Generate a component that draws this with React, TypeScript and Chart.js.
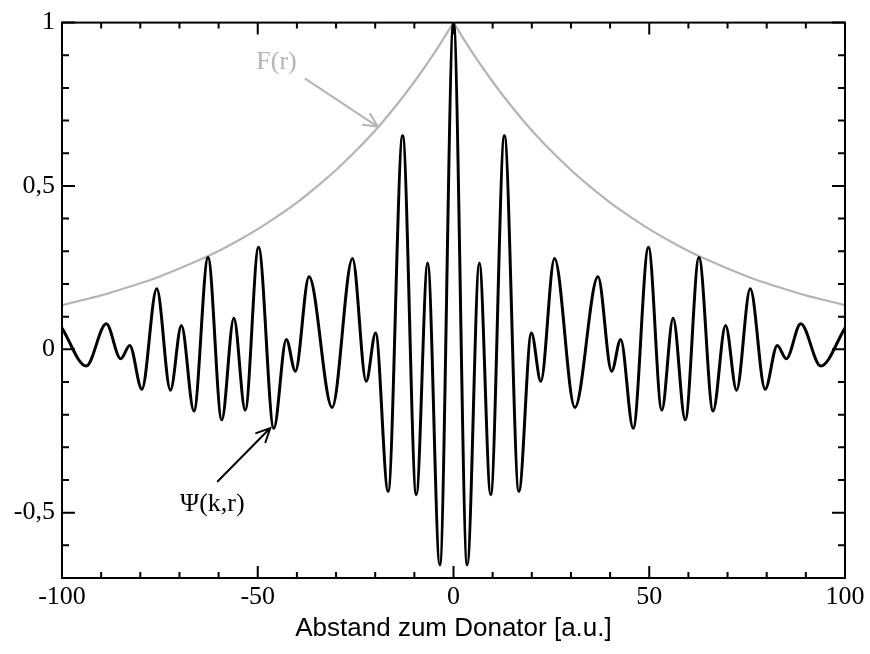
import React, { useEffect, useRef } from "react";
import { Chart, registerables } from "chart.js";

Chart.register(...registerables);

// Ψ(k,r): distance r and wave value (read at extrema of the curve)
const psiR = [
  -100, -93.8, -88.7, -85.0, -82.7, -79.6, -75.8, -72.3, -69.5, -66.3, -62.7, -59.2, -56.1, -53.2, -49.8,
  -45.9, -42.7, -40.4, -36.9, -31.0, -25.8, -22.3, -19.9, -16.7, -13.0, -9.5, -6.6, -3.5, 0,
  3.5, 6.6, 9.5, 13.0, 16.7, 19.9, 22.3, 25.8, 31.0, 36.9, 40.4, 42.7, 45.9,
  49.8, 53.2, 56.1, 59.2, 62.7, 66.3, 69.5, 72.3, 75.8, 79.6, 82.7, 85.0, 88.7, 93.8, 100,
];
const psiV = [
  0.065, -0.051, 0.078, -0.029, 0.012, -0.122, 0.185, -0.125, 0.073, -0.189, 0.281, -0.216, 0.095, -0.186, 0.312,
  -0.242, 0.03, -0.067, 0.222, -0.178, 0.278, -0.098, 0.05, -0.435, 0.654, -0.445, 0.264, -0.66, 1.0,
  -0.66, 0.264, -0.445, 0.654, -0.435, 0.05, -0.098, 0.278, -0.178, 0.222, -0.067, 0.03, -0.242,
  0.312, -0.186, 0.095, -0.216, 0.281, -0.189, 0.073, -0.125, 0.185, -0.122, 0.012, -0.029, 0.078, -0.051, 0.065,
];

// F(r) envelope, left branch (r <= 0) and right branch (r >= 0)
const fLeftR = [-100, -95, -90, -85, -80, -75, -70, -65, -60, -55, -50, -45, -40, -35, -30, -25, -20, -15, -10, -5, 0];
const fLeftV = [0.135, 0.150, 0.165, 0.183, 0.202, 0.223, 0.247, 0.273, 0.301, 0.333, 0.368, 0.407, 0.449, 0.497, 0.549, 0.607, 0.670, 0.741, 0.819, 0.905, 1.0];
const fRightR = [0, 5, 10, 15, 20, 25, 30, 35, 40, 45, 50, 55, 60, 65, 70, 75, 80, 85, 90, 95, 100];
const fRightV = [1.0, 0.905, 0.819, 0.741, 0.670, 0.607, 0.549, 0.497, 0.449, 0.407, 0.368, 0.333, 0.301, 0.273, 0.247, 0.223, 0.202, 0.183, 0.165, 0.150, 0.135];

// axis ticks
const xMajorTicks = [-100, -50, 0, 50, 100];
const xMinorTicks = [-90, -80, -70, -60, -40, -30, -20, -10, 10, 20, 30, 40, 60, 70, 80, 90];
const yMajorTicks = [-0.5, 0, 0.5, 1];
const yMinorTicks = [-0.6, -0.4, -0.3, -0.2, -0.1, 0.1, 0.2, 0.3, 0.4, 0.6, 0.7, 0.8, 0.9];

// annotations (data coordinates)
const fLabel = { text: "F(r)", r: -45.2, v: 0.88 };
const fArrow = { r0: -37.8, v0: 0.828, r1: -19.3, v1: 0.681 };
const psiLabel = { text: "Ψ(k,r)", r: -61.6, v: -0.475 };
const psiArrow = { r0: -60.2, v0: -0.404, r1: -46.8, v1: -0.241 };

const GREY = "#b4b4b4";
const SERIF = "'Liberation Serif', 'Times New Roman', serif";
const SANS = "'Liberation Sans', Arial, sans-serif";

const toPts = (xs: number[], ys: number[]) => xs.map((x, i) => ({ x, y: ys[i] }));

function drawArrow(ctx: CanvasRenderingContext2D, x0: number, y0: number, x1: number, y1: number, color: string) {
  const ang = Math.atan2(y1 - y0, x1 - x0);
  const hl = 15;
  const ha = 0.45;
  ctx.save();
  ctx.strokeStyle = color;
  ctx.lineWidth = 2;
  ctx.lineCap = "round";
  ctx.beginPath();
  ctx.moveTo(x0, y0);
  ctx.lineTo(x1, y1);
  ctx.moveTo(x1 - hl * Math.cos(ang - ha), y1 - hl * Math.sin(ang - ha));
  ctx.lineTo(x1, y1);
  ctx.lineTo(x1 - hl * Math.cos(ang + ha), y1 - hl * Math.sin(ang + ha));
  ctx.stroke();
  ctx.restore();
}

const framePlugin = {
  id: "frameTicks",
  afterDatasetsDraw(chart: any) {
    const { ctx, chartArea, scales } = chart;
    const xs = scales.x;
    const ys = scales.y;
    const { left, right, top, bottom } = chartArea;
    ctx.save();
    ctx.strokeStyle = "#000";
    ctx.lineWidth = 2;
    ctx.beginPath();
    const tickX = (v: number, len: number) => {
      const px = xs.getPixelForValue(v);
      ctx.moveTo(px, bottom);
      ctx.lineTo(px, bottom - len);
      ctx.moveTo(px, top);
      ctx.lineTo(px, top + len);
    };
    const tickY = (v: number, len: number) => {
      const py = ys.getPixelForValue(v);
      ctx.moveTo(left, py);
      ctx.lineTo(left + len, py);
      ctx.moveTo(right, py);
      ctx.lineTo(right - len, py);
    };
    xMajorTicks.forEach((v) => tickX(v, 12));
    xMinorTicks.forEach((v) => tickX(v, 6));
    yMajorTicks.forEach((v) => tickY(v, 13));
    yMinorTicks.forEach((v) => tickY(v, 7));
    ctx.stroke();
    ctx.lineWidth = 2;
    ctx.strokeRect(left, top, right - left, bottom - top);

    // annotations
    ctx.font = `26px ${SERIF}`;
    ctx.textAlign = "center";
    ctx.textBaseline = "middle";
    ctx.fillStyle = GREY;
    ctx.fillText(fLabel.text, xs.getPixelForValue(fLabel.r), ys.getPixelForValue(fLabel.v));
    drawArrow(ctx, xs.getPixelForValue(fArrow.r0), ys.getPixelForValue(fArrow.v0), xs.getPixelForValue(fArrow.r1), ys.getPixelForValue(fArrow.v1), GREY);
    ctx.fillStyle = "#000";
    ctx.fillText(psiLabel.text, xs.getPixelForValue(psiLabel.r), ys.getPixelForValue(psiLabel.v));
    drawArrow(ctx, xs.getPixelForValue(psiArrow.r0), ys.getPixelForValue(psiArrow.v0), xs.getPixelForValue(psiArrow.r1), ys.getPixelForValue(psiArrow.v1), "#000");
    ctx.restore();
  },
};

export default function App() {
  const ref = useRef<HTMLCanvasElement | null>(null);
  useEffect(() => {
    document.body.style.margin = "0";
    const canvas = ref.current;
    if (!canvas) return;
    const chart = new Chart(canvas, {
      type: "line",
      data: {
        datasets: [
          {
            label: "Ψ(k,r)",
            data: toPts(psiR, psiV),
            borderColor: "#000",
            borderWidth: 3,
            pointRadius: 0,
            cubicInterpolationMode: "monotone",
            order: 0,
          },
          {
            label: "F(r)",
            data: toPts(fLeftR, fLeftV),
            borderColor: GREY,
            borderWidth: 2.2,
            pointRadius: 0,
            cubicInterpolationMode: "monotone",
            order: 1,
          },
          {
            label: "F(r) right",
            data: toPts(fRightR, fRightV),
            borderColor: GREY,
            borderWidth: 2.2,
            pointRadius: 0,
            cubicInterpolationMode: "monotone",
            order: 1,
          },
        ],
      },
      options: {
        animation: false,
        responsive: false,
        devicePixelRatio: 1,
        layout: { padding: { top: 17, right: 25, left: 0, bottom: 0 } },
        plugins: { legend: { display: false }, tooltip: { enabled: false } },
        scales: {
          x: {
            type: "linear",
            min: -100,
            max: 100,
            grid: { display: false, drawTicks: false },
            border: { display: false },
            afterBuildTicks: (s: any) => {
              s.ticks = xMajorTicks.map((v) => ({ value: v }));
            },
            afterFit: (s: any) => {
              s.height = 76;
            },
            ticks: {
              color: "#000",
              padding: 4,
              maxRotation: 0,
              autoSkip: false,
              font: { family: SERIF, size: 26 },
              callback: (v: any) => String(v),
            },
            title: {
              display: true,
              text: "Abstand zum Donator [a.u.]",
              color: "#000",
              font: { family: SANS, size: 26 },
              padding: { top: 0, bottom: 10 },
            },
          },
          y: {
            type: "linear",
            min: -0.7,
            max: 1,
            grid: { display: false, drawTicks: false },
            border: { display: false },
            afterBuildTicks: (s: any) => {
              s.ticks = yMajorTicks.map((v) => ({ value: v }));
            },
            afterFit: (s: any) => {
              s.width = 62;
            },
            ticks: {
              color: "#000",
              padding: 7,
              autoSkip: false,
              font: { family: SERIF, size: 26 },
              callback: (v: any) => String(v).replace(".", ","),
            },
          },
        },
      },
      plugins: [framePlugin],
    });
    return () => chart.destroy();
  }, []);
  return (
    <div style={{ width: 870, height: 654 }}>
      <canvas ref={ref} width={870} height={654} />
    </div>
  );
}
